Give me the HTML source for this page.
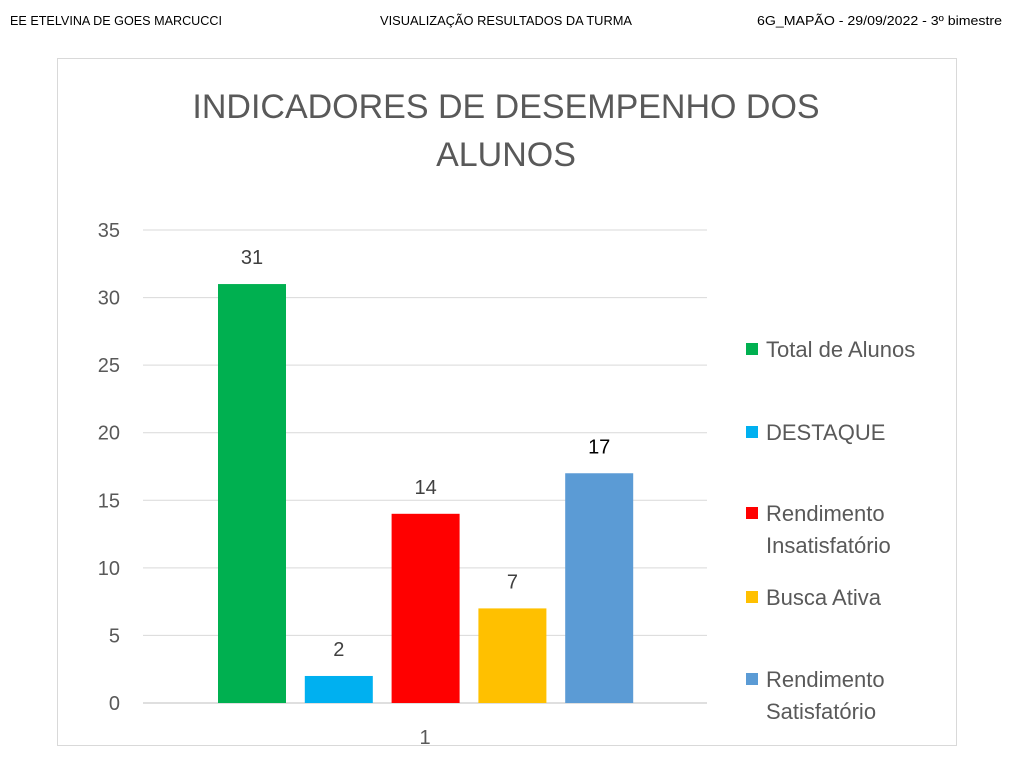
<!DOCTYPE html>
<html><head><meta charset="utf-8"><style>
html,body{margin:0;padding:0;background:#fff;width:1018px;height:772px;overflow:hidden}
svg{display:block;font-family:"Liberation Sans",sans-serif}
</style></head><body>
<svg id="chart" width="1018" height="772" viewBox="0 0 1018 772">
<text x="10" y="25" font-size="13" textLength="212" lengthAdjust="spacingAndGlyphs" fill="#000">EE ETELVINA DE GOES MARCUCCI</text>
<text x="380" y="25" font-size="13" textLength="252" lengthAdjust="spacingAndGlyphs" fill="#000">VISUALIZAÇÃO  RESULTADOS DA TURMA</text>
<text x="757" y="25" font-size="13" textLength="245" lengthAdjust="spacingAndGlyphs" fill="#000">6G_MAPÃO - 29/09/2022 - 3º bimestre</text>
<rect x="57.5" y="58.5" width="899" height="687" fill="#fff" stroke="#d9d9d9"/>
<text x="506" y="118" font-size="34" fill="#595959" text-anchor="middle">INDICADORES DE DESEMPENHO DOS</text>
<text x="506" y="166" font-size="34" fill="#595959" text-anchor="middle">ALUNOS</text>
<g id="grid"></g><g id="bars"></g><g id="legend"></g>
<text x="425" y="744" font-size="20" fill="#595959" text-anchor="middle">1</text>
</svg>
<script>
const categories=["Total de Alunos","DESTAQUE","Rendimento Insatisfatório","Busca Ativa","Rendimento Satisfatório"];
const values=[31,2,14,7,17];
const colors=["#00b050","#00b0f0","#ff0000","#ffc000","#5b9bd5"];
const yTicks=[0,5,10,15,20,25,30,35];
const NS="http://www.w3.org/2000/svg";
const y0=703,yTop=230,yMax=35;
const y=v=>y0-(v/yMax)*(y0-yTop);
const x=i=>218+i*86.8;
function mk(t,a,p){const e=document.createElementNS(NS,t);for(const k in a)e.setAttribute(k,a[k]);p.appendChild(e);return e;}
const grid=document.getElementById('grid');
yTicks.forEach(t=>{
 const l=mk('line',{x1:143,x2:707,y1:y(t),y2:y(t),stroke:t===0?'#bfbfbf':'#d9d9d9','stroke-width':1},grid);
 
 
 const tx=mk('text',{x:120,y:y(t)+7,'font-size':20,fill:'#595959','text-anchor':'end'},grid);
 tx.textContent=t;
 
 
});
const bars=document.getElementById('bars');
values.forEach((v,i)=>{
 const r=mk('rect',{x:x(i),y:y(v),width:68,height:y0-y(v),fill:colors[i]},bars);
 
 
 const t=mk('text',{x:x(i)+34,y:y(v)-20,'font-size':20,fill:i===4?'#000':'#404040','text-anchor':'middle'},bars);
 t.textContent=v;
 
 
});
const legend=document.getElementById('legend');
const ly=[349,432,513,597,679];
categories.forEach((c,i)=>{
 const g=mk('g',{},legend);
 
 
 mk('rect',{x:746,y:ly[i]-6,width:12,height:12,fill:colors[i]},g);
 const words=c.split(' ');
 const lines=(c.length>16)?[words[0],words.slice(1).join(' ')]:[c];
 lines.forEach((ln,k)=>{
  const t=mk('text',{x:766,y:ly[i]+8+k*32,'font-size':22,fill:'#595959'},g);
  t.textContent=ln;
 });
});
</script>
</body></html>
